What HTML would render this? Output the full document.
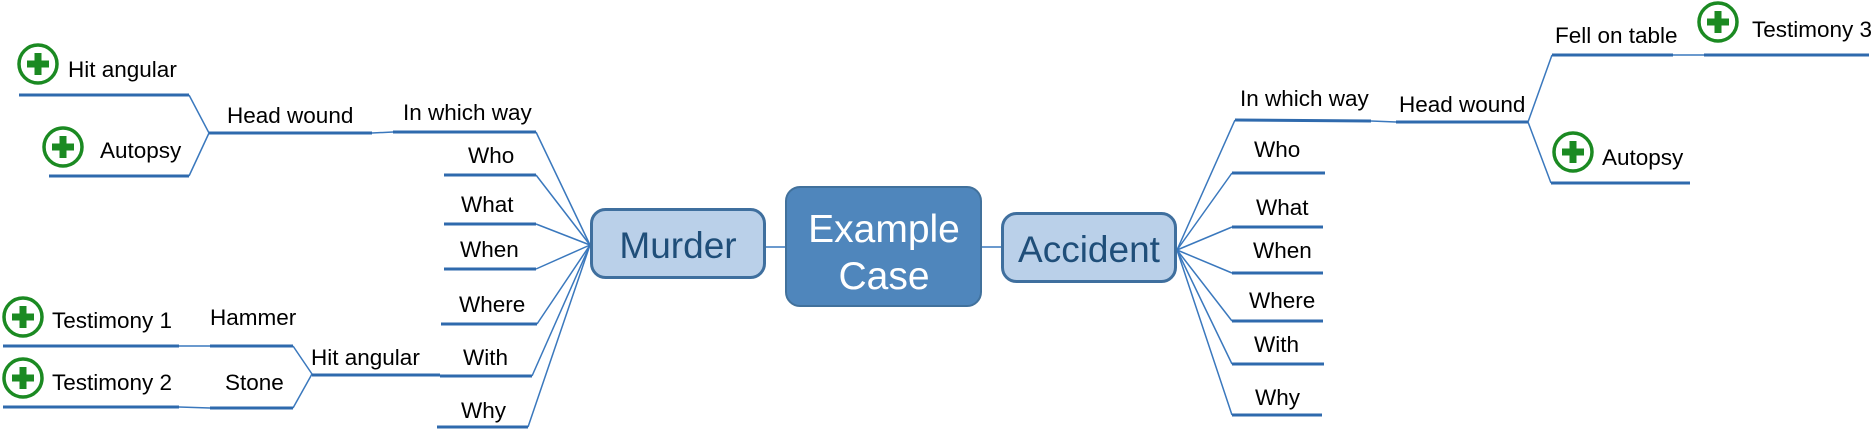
<!DOCTYPE html>
<html><head><meta charset="utf-8"><style>
html,body{margin:0;padding:0;background:#fff;}
svg{display:block;}
text{font-family:"Liberation Sans",sans-serif;}
.t{font-size:22.5px;fill:#000;}
.u{stroke:#2f6aad;stroke-width:3;fill:none;}
.c{stroke:#3a78bd;stroke-width:1.5;fill:none;}
</style></head><body>
<svg width="1875" height="429" viewBox="0 0 1875 429" xmlns="http://www.w3.org/2000/svg">
<defs>
<g id="ic">
<circle cx="0" cy="0" r="19" fill="#fff" stroke="#1b8a22" stroke-width="3.5"/>
<rect x="-3.5" y="-11" width="7" height="22" fill="#1b8a22"/>
<rect x="-11" y="-3.5" width="22" height="7" fill="#1b8a22"/>
</g>
</defs>
<!-- LEFT connectors -->
<g class="c">
<line x1="536" y1="132" x2="590" y2="245"/>
<line x1="536" y1="175" x2="590" y2="245"/>
<line x1="536" y1="224" x2="590" y2="245"/>
<line x1="536" y1="269" x2="590" y2="245"/>
<line x1="537" y1="324" x2="590" y2="245"/>
<line x1="532" y1="376" x2="590" y2="245"/>
<line x1="528" y1="427" x2="590" y2="245"/>
<line x1="189" y1="95" x2="209" y2="133"/>
<line x1="189" y1="176" x2="209" y2="133"/>
<line x1="293" y1="346" x2="312" y2="374"/>
<line x1="293" y1="408" x2="312" y2="374"/>
<line x1="372" y1="133" x2="393" y2="132"/>
<line x1="179" y1="346" x2="210" y2="346"/>
<line x1="179" y1="407" x2="210" y2="408"/>
<line x1="766" y1="247" x2="785" y2="247"/>
<line x1="982" y1="247" x2="1001" y2="247"/>
<!-- right -->
<line x1="1177" y1="250" x2="1235" y2="120"/>
<line x1="1177" y1="250" x2="1232" y2="173"/>
<line x1="1177" y1="250" x2="1232" y2="227"/>
<line x1="1177" y1="250" x2="1232" y2="273"/>
<line x1="1177" y1="250" x2="1232" y2="321"/>
<line x1="1177" y1="250" x2="1232" y2="364"/>
<line x1="1177" y1="250" x2="1232" y2="415"/>
<line x1="1371" y1="121" x2="1396" y2="122"/>
<line x1="1528" y1="122" x2="1552" y2="55"/>
<line x1="1528" y1="122" x2="1551" y2="183"/>
<line x1="1673" y1="55" x2="1704" y2="55"/>
</g>
<!-- underlines -->
<g class="u">
<line x1="19" y1="95" x2="189" y2="95"/>
<line x1="49" y1="176" x2="189" y2="176"/>
<line x1="209" y1="133" x2="372" y2="133"/>
<line x1="393" y1="132" x2="536" y2="132"/>
<line x1="444" y1="175" x2="536" y2="175"/>
<line x1="444" y1="224" x2="536" y2="224"/>
<line x1="444" y1="269" x2="536" y2="269"/>
<line x1="441" y1="324" x2="537" y2="324"/>
<line x1="440" y1="376" x2="532" y2="376"/>
<line x1="437" y1="427" x2="528" y2="427"/>
<line x1="3" y1="346" x2="179" y2="346"/>
<line x1="3" y1="407" x2="179" y2="407"/>
<line x1="210" y1="346" x2="293" y2="346"/>
<line x1="210" y1="408" x2="293" y2="408"/>
<line x1="312" y1="375" x2="440" y2="375"/>
<line x1="1235" y1="120" x2="1371" y2="121"/>
<line x1="1396" y1="122" x2="1528" y2="122"/>
<line x1="1232" y1="173" x2="1325" y2="173"/>
<line x1="1232" y1="227" x2="1323" y2="227"/>
<line x1="1232" y1="273" x2="1323" y2="273"/>
<line x1="1232" y1="321" x2="1323" y2="321"/>
<line x1="1232" y1="364" x2="1324" y2="364"/>
<line x1="1232" y1="415" x2="1322" y2="415"/>
<line x1="1552" y1="55" x2="1673" y2="55"/>
<line x1="1704" y1="55" x2="1869" y2="55"/>
<line x1="1551" y1="183" x2="1690" y2="183"/>
</g>
<!-- boxes -->
<rect x="591.5" y="209.5" width="173" height="68" rx="14" fill="#bad0e9" stroke="#3f6f9e" stroke-width="3"/>
<text x="678" y="258" text-anchor="middle" font-size="37" fill="#1f4e79">Murder</text>
<rect x="786" y="187" width="195" height="119" rx="14" fill="#4f86bc" stroke="#41719c" stroke-width="2"/>
<text x="884" y="242" text-anchor="middle" font-size="39" fill="#fff">Example</text>
<text x="884" y="289" text-anchor="middle" font-size="39" fill="#fff">Case</text>
<rect x="1002.5" y="213.5" width="173" height="68" rx="14" fill="#bad0e9" stroke="#3f6f9e" stroke-width="3"/>
<text x="1089" y="262" text-anchor="middle" font-size="37" fill="#1f4e79">Accident</text>
<!-- icons -->
<use href="#ic" x="38" y="64"/>
<use href="#ic" x="63" y="147"/>
<use href="#ic" x="23" y="317"/>
<use href="#ic" x="23" y="378"/>
<use href="#ic" x="1718" y="22"/>
<use href="#ic" x="1573" y="152"/>
<!-- labels -->
<g class="t">
<text x="68" y="77">Hit angular</text>
<text x="100" y="158">Autopsy</text>
<text x="227" y="123">Head wound</text>
<text x="403" y="120">In which way</text>
<text x="468" y="163">Who</text>
<text x="461" y="212">What</text>
<text x="460" y="257">When</text>
<text x="459" y="312">Where</text>
<text x="463" y="365">With</text>
<text x="461" y="418">Why</text>
<text x="52" y="328">Testimony 1</text>
<text x="52" y="390">Testimony 2</text>
<text x="210" y="325">Hammer</text>
<text x="225" y="390">Stone</text>
<text x="311" y="365">Hit angular</text>
<text x="1240" y="106">In which way</text>
<text x="1399" y="112">Head wound</text>
<text x="1555" y="43">Fell on table</text>
<text x="1752" y="37">Testimony 3</text>
<text x="1602" y="165">Autopsy</text>
<text x="1254" y="157">Who</text>
<text x="1256" y="215">What</text>
<text x="1253" y="258">When</text>
<text x="1249" y="308">Where</text>
<text x="1254" y="352">With</text>
<text x="1255" y="405">Why</text>
</g>
</svg>
</body></html>
